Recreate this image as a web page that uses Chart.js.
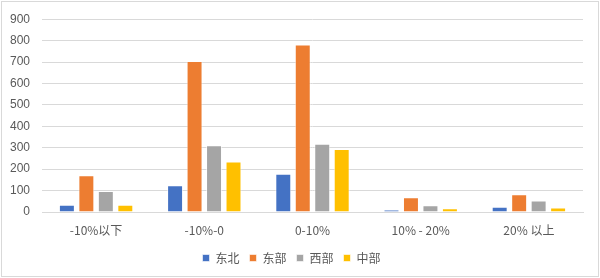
<!DOCTYPE html>
<html>
<head>
<meta charset="utf-8">
<script src="https://cdn.jsdelivr.net/npm/chart.js@4/dist/chart.umd.min.js"></script>
<style>
  body { margin: 0; background: #fff; }
  #wrap { position: absolute; left: 1px; top: 1px; width: 596px; height: 274px; border: 1px solid #d9d9d9; }
  #box { position: absolute; left: 0; top: 0; width: 600px; height: 278px; }
</style>
</head>
<body>
<div id="wrap"></div>
<div id="box"><canvas id="BarChart" width="600" height="278"></canvas></div>
<script>
// chart data
var categories = ['-10%以下', '-10%-0', '0-10%', '10% - 20%', '20% 以上'];
var seriesNames = ['东北', '东部', '西部', '中部'];
var dongbei = [34, 125, 178, 12, 24];
var dongbu = [172, 705, 782, 69, 83];
var xibu = [98, 312, 319, 32, 54];
var zhongbu = [34, 236, 294, 18, 21];
var yTicks = [0, 100, 200, 300, 400, 500, 600, 700, 800, 900];

var colours = ['#4472C4', '#ED7D31', '#A5A5A5', '#FFC000'];
var values = [dongbei, dongbu, xibu, zhongbu];
var fontFamily = "'Noto Sans CJK SC', 'DejaVu Sans', sans-serif";

var datasets = [];
for (var i = 0; i < seriesNames.length; i++) {
    datasets.push({
        label: seriesNames[i],
        data: values[i],
        backgroundColor: colours[i],
        borderColor: 'rgba(255,255,255,0.6)',
        borderWidth: 1,
        categoryPercentage: 0.72,
        barPercentage: 0.82
    });
}

var ctx = document.getElementById('BarChart').getContext('2d');
var chart = new Chart(ctx, {
    type: 'bar',
    data: { labels: categories, datasets: datasets },
    options: {
        responsive: false,
        animation: false,
        layout: { padding: { top: 14, right: 17, left: 0, bottom: 4 } },
        plugins: {
            legend: {
                position: 'bottom',
                labels: {
                    boxWidth: 7, boxHeight: 7, padding: 10,
                    color: '#595959',
                    font: { family: fontFamily, size: 12 }
                }
            },
            tooltip: { enabled: false }
        },
        scales: {
            x: {
                grid: { display: false },
                border: { color: '#d9d9d9' },
                ticks: { color: '#595959', padding: 3, font: { family: fontFamily, size: 12 } },
                afterFit: function (s) { s.height = 30; }
            },
            y: {
                min: 0, max: 900,
                afterBuildTicks: function (s) { s.ticks = yTicks.map(function (v) { return { value: v }; }); },
                grid: { color: '#d9d9d9', drawTicks: false },
                border: { display: false },
                ticks: { color: '#595959', padding: 12, font: { family: 'Liberation Sans', size: 12 } },
                afterFit: function (s) { s.width = 42; }
            }
        }
    }
});
</script>
</body>
</html>
